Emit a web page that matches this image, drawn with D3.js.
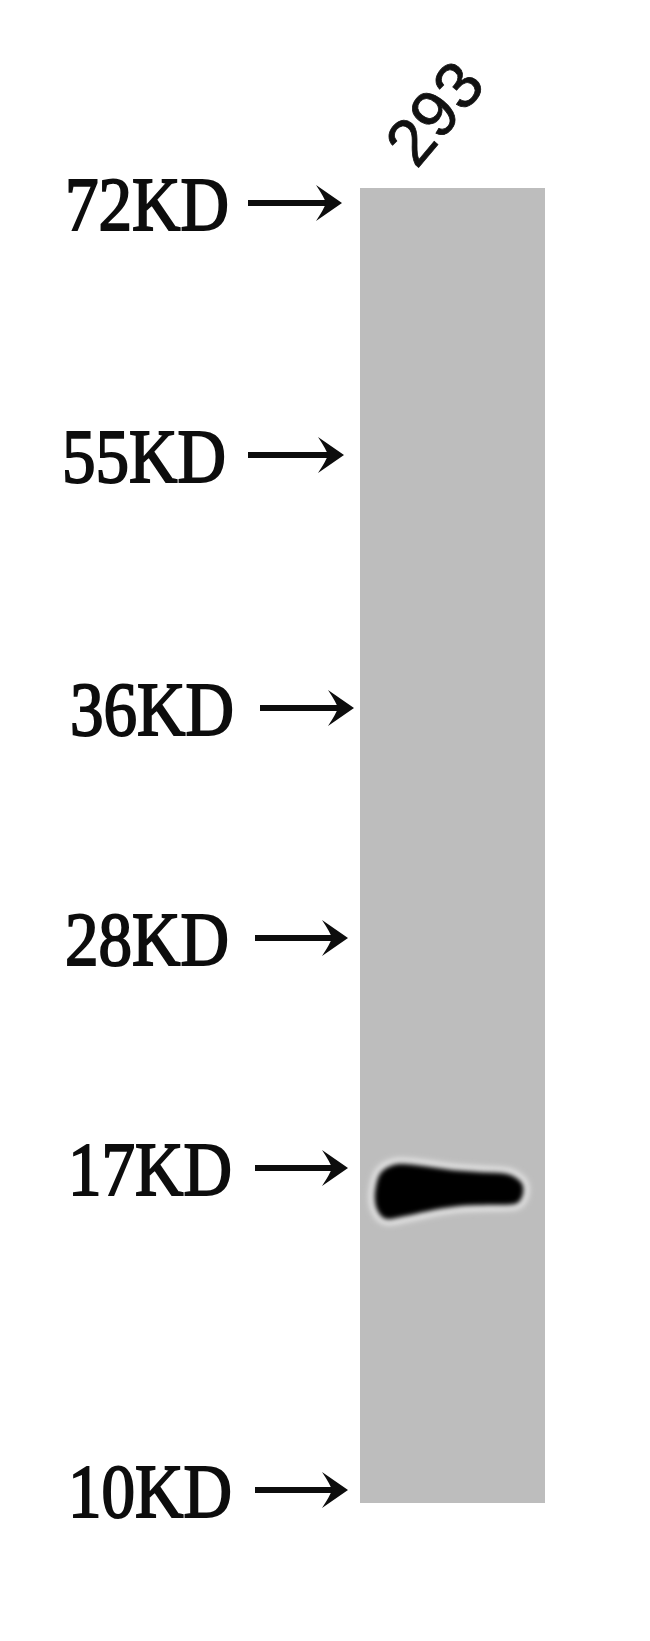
<!DOCTYPE html>
<html>
<head>
  <meta charset="utf-8">
  <script src="https://d3js.org/d3.v7.min.js"></script>
  <style>
    body { margin: 0; background: #fff; overflow: hidden; }
    svg { display: block; }
  </style>
</head>
<body>
  <div id="chart"></div>

  <script>
    // marker ladder (kDa) and the sample lane
    const markers = [72, 55, 36, 28, 17, 10];
    const markerLabels = ["72KD", "55KD", "36KD", "28KD", "17KD", "10KD"];
    const lanes = ["293"];
    // detected band: lane, apparent size (kDa), intensity 0..1
    const bandLane = ["293"];
    const bandKd = [16.5];
    const bandIntensity = [1];

    const width = 650, height = 1641;

    const svg = d3.select("#chart")
      .append("svg")
      .attr("width", width)
      .attr("height", height);

    // gel migration is not linear, so piecewise scale through the ladder positions
    const y = d3.scaleLinear()
      .domain(markers)
      .range([203, 455, 708, 938, 1168, 1490]);

    const x = d3.scaleBand()
      .domain(lanes)
      .range([360, 545])
      .padding(0);

    const shade = d3.scaleLinear().domain([0, 1]).range(["#bdbdbd", "#000000"]);

    const defs = svg.append("defs");
    defs.append("filter").attr("id", "soft")
      .attr("x", "-20%").attr("y", "-50%").attr("width", "140%").attr("height", "200%")
      .append("feGaussianBlur").attr("stdDeviation", 2.5);
    defs.append("filter").attr("id", "halo")
      .attr("x", "-20%").attr("y", "-50%").attr("width", "140%").attr("height", "200%")
      .append("feGaussianBlur").attr("stdDeviation", 3);

    // lane background
    svg.selectAll("rect.lane")
      .data(lanes)
      .enter()
      .append("rect")
      .attr("class", "lane")
      .attr("x", d => x(d))
      .attr("y", 188)
      .attr("width", x.bandwidth())
      .attr("height", 1503 - 188)
      .attr("fill", "#bdbdbd");

    // lane label, rotated
    svg.selectAll("text.lane-label")
      .data(lanes)
      .enter()
      .append("text")
      .attr("class", "lane-label")
      .attr("transform", d => `translate(${x(d) + x.bandwidth() / 2 - 36}, 170) rotate(-50)`)
      .attr("font-family", "Liberation Sans, Arial, sans-serif")
      .attr("font-size", 66)
      .attr("fill", "#111")
      .attr("stroke", "#111")
      .attr("stroke-width", 0.8)
      .text(d => d);

    // band outline, relative to the lane (fraction of lane width, px from centre)
    const bandShape = [
      [0.08, 2], [0.11, -18], [0.2, -27], [0.35, -25], [0.5, -21], [0.65, -19],
      [0.8, -17], [0.875, -8], [0.88, 4], [0.84, 13], [0.7, 14], [0.55, 15],
      [0.4, 19], [0.25, 25], [0.14, 28], [0.09, 18]
    ];
    const bandLine = d3.line().curve(d3.curveCardinalClosed.tension(0.1));

    const bands = bandLane.map((l, i) => ({ lane: l, kd: bandKd[i], v: bandIntensity[i] }));

    const bandPath = d => bandLine(bandShape.map(p => [
      x(d.lane) + p[0] * x.bandwidth(), y(d.kd) + p[1]
    ]));

    svg.selectAll("path.halo")
      .data(bands)
      .enter()
      .append("path")
      .attr("class", "halo")
      .attr("d", bandPath)
      .attr("fill", "none")
      .attr("stroke", "#f2f2f2")
      .attr("stroke-width", 10)
      .attr("filter", "url(#halo)");

    svg.selectAll("path.band")
      .data(bands)
      .enter()
      .append("path")
      .attr("class", "band")
      .attr("d", bandPath)
      .attr("fill", d => shade(d.v))
      .attr("filter", "url(#soft)");

    // marker labels with arrows
    const labelX = [65, 62, 70, 65, 68, 68];
    const arrowX = [[248, 342], [248, 344], [260, 354], [255, 348], [255, 348], [255, 348]];

    const g = svg.selectAll("g.marker")
      .data(markers)
      .enter()
      .append("g")
      .attr("class", "marker")
      .attr("transform", d => `translate(0, ${y(d)})`);

    g.append("text")
      .attr("x", (d, i) => labelX[i])
      .attr("y", 0)
      .attr("dy", "0.35em")
      .attr("font-family", "Liberation Serif, Times New Roman, serif")
      .attr("font-size", 76)
      .attr("textLength", 164)
      .attr("lengthAdjust", "spacingAndGlyphs")
      .attr("fill", "#0d0d0d")
      .attr("stroke", "#0d0d0d")
      .attr("stroke-width", 2)
      .text((d, i) => markerLabels[i]);

    g.append("line")
      .attr("x1", (d, i) => arrowX[i][0])
      .attr("x2", (d, i) => arrowX[i][1] - 10)
      .attr("y1", 0)
      .attr("y2", 0)
      .attr("stroke", "#0d0d0d")
      .attr("stroke-width", 6);

    g.append("path")
      .attr("transform", (d, i) => `translate(${arrowX[i][1]}, 0)`)
      .attr("d", "M0,0 L-26,-18 Q-18,-6 -16,0 Q-18,6 -26,18 Z")
      .attr("fill", "#0d0d0d");
  </script>
</body>
</html>
